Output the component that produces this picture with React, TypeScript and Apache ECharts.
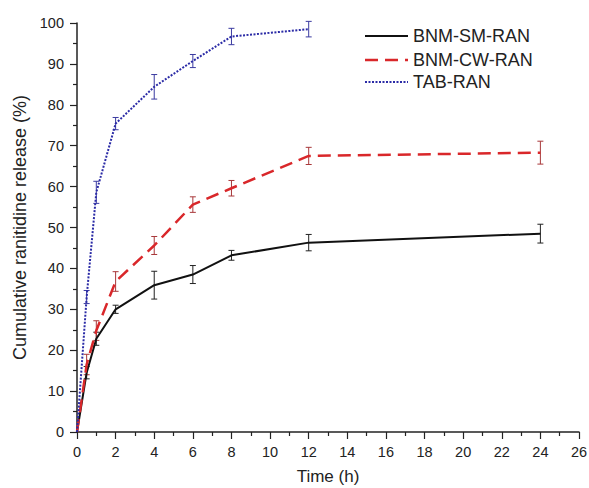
import React, { useEffect, useRef } from "react";
import * as echarts from "echarts";

const times = [0, 0.5, 1, 2, 4, 6, 8, 12, 24];
const tabTimes = [0, 0.5, 1, 2, 4, 6, 8, 12];

const smValues = [0, 14.5, 22.8, 30.0, 35.9, 38.5, 43.2, 46.3, 48.5];
const smErrors = [0, 1.5, 1.6, 1.0, 3.4, 2.2, 1.2, 2.0, 2.3];

const cwValues = [0, 16.5, 24.8, 36.8, 45.6, 55.6, 59.6, 67.5, 68.3];
const cwErrors = [0, 2.5, 2.4, 2.4, 2.2, 1.9, 1.9, 2.1, 2.8];

const tabValues = [0, 33.0, 58.6, 75.4, 84.4, 90.7, 96.7, 98.5];
const tabErrors = [0, 1.6, 2.7, 1.5, 3.0, 1.6, 2.0, 1.9];

const seriesNames = ["BNM-SM-RAN", "BNM-CW-RAN", "TAB-RAN"];
const lineColors = ["#111111", "#d9272a", "#2b2ba6"];
const barColors = ["#222222", "#a8383a", "#3a3aa0"];
const lineDashes: any[] = [null, [13, 7], [2, 1.5]];
const lineWidths = [2, 2.5, 2];

function errData(xs: number[], ys: number[], es: number[]) {
  return xs.map((x, i) => [x, ys[i] - es[i], ys[i] + es[i]]);
}

function errSeries(name: string, data: number[][], color: string) {
  return {
    type: "custom",
    name,
    data,
    z: 3,
    renderItem: (params: any, api: any) => {
      const x = api.value(0);
      const lo = api.value(1);
      const hi = api.value(2);
      if (hi - lo <= 0) return null;
      const p1 = api.coord([x, lo]);
      const p2 = api.coord([x, hi]);
      const w = 3;
      const style = { stroke: color, lineWidth: 1 };
      return {
        type: "group",
        children: [
          { type: "line", shape: { x1: p1[0], y1: p1[1], x2: p2[0], y2: p2[1] }, style },
          { type: "line", shape: { x1: p1[0] - w, y1: p1[1], x2: p1[0] + w, y2: p1[1] }, style },
          { type: "line", shape: { x1: p2[0] - w, y1: p2[1], x2: p2[0] + w, y2: p2[1] }, style },
        ],
      };
    },
  };
}

export default function App() {
  const ref = useRef<HTMLDivElement>(null);
  useEffect(() => {
    if (!ref.current) return;
    const chart = echarts.init(ref.current, undefined, { renderer: "svg" });
    const font = "'Liberation Sans', Arial, sans-serif";
    const axisCommon = {
      axisLine: { show: true, lineStyle: { color: "#222", width: 1.5 } },
      axisTick: { show: true, inside: false, length: 7, lineStyle: { color: "#222", width: 1.2 } },
      minorTick: { show: true, splitNumber: 2, length: 4, lineStyle: { color: "#222", width: 1.2 } },
      splitLine: { show: false },
      nameTextStyle: { fontFamily: font, fontSize: 18, color: "#222" },
    };
    const legendRows = [36, 60, 82];
    const legendGraphics: any[] = [];
    seriesNames.forEach((n, i) => {
      legendGraphics.push({
        type: "line",
        shape: { x1: 365, y1: legendRows[i], x2: 408, y2: legendRows[i] },
        style: { stroke: lineColors[i], lineWidth: lineWidths[i], lineDash: lineDashes[i] },
      });
      legendGraphics.push({
        type: "text",
        x: 413,
        y: legendRows[i],
        style: {
          text: n,
          fontFamily: font,
          fontSize: 18,
          fill: "#222",
          verticalAlign: "middle",
          align: "left",
        },
      });
    });
    chart.setOption({
      animation: false,
      backgroundColor: "#ffffff",
      grid: { left: 77, right: 10, top: 23, bottom: 56, outerBoundsMode: "none", containLabel: false },
      graphic: legendGraphics,
      xAxis: {
        type: "value",
        min: 0,
        max: 26,
        interval: 2,
        name: "Time (h)",
        nameLocation: "middle",
        nameGap: 36,
        ...axisCommon,
        nameTextStyle: { fontFamily: font, fontSize: 17, color: "#222" },
        axisLabel: { fontFamily: font, fontSize: 14.5, color: "#222", margin: 12 },
      },
      yAxis: {
        type: "value",
        min: 0,
        max: 100,
        interval: 10,
        name: "Cumulative ranitidine release (%)",
        nameLocation: "middle",
        nameGap: 48,
        ...axisCommon,
        axisLabel: { fontFamily: font, fontSize: 14.5, color: "#222", margin: 13 },
      },
      series: [
        {
          type: "line",
          name: seriesNames[0],
          data: times.map((t, i) => [t, smValues[i]]),
          symbol: "none",
          color: lineColors[0],
          lineStyle: { color: lineColors[0], width: lineWidths[0] },
          z: 4,
        },
        {
          type: "line",
          name: seriesNames[1],
          data: times.map((t, i) => [t, cwValues[i]]),
          symbol: "none",
          color: lineColors[1],
          lineStyle: { color: lineColors[1], width: lineWidths[1], type: lineDashes[1] },
          z: 4,
        },
        {
          type: "line",
          name: seriesNames[2],
          data: tabTimes.map((t, i) => [t, tabValues[i]]),
          symbol: "none",
          color: lineColors[2],
          lineStyle: { color: lineColors[2], width: lineWidths[2], type: lineDashes[2] },
          z: 4,
        },
        errSeries("err-sm", errData(times, smValues, smErrors), barColors[0]),
        errSeries("err-cw", errData(times, cwValues, cwErrors), barColors[1]),
        errSeries("err-tab", errData(tabTimes, tabValues, tabErrors), barColors[2]),
      ],
    });
    return () => chart.dispose();
  }, []);
  return (
    <div
      ref={ref}
      style={{ position: "absolute", left: 0, top: 0, width: 589, height: 488, background: "#fff" }}
    />
  );
}
